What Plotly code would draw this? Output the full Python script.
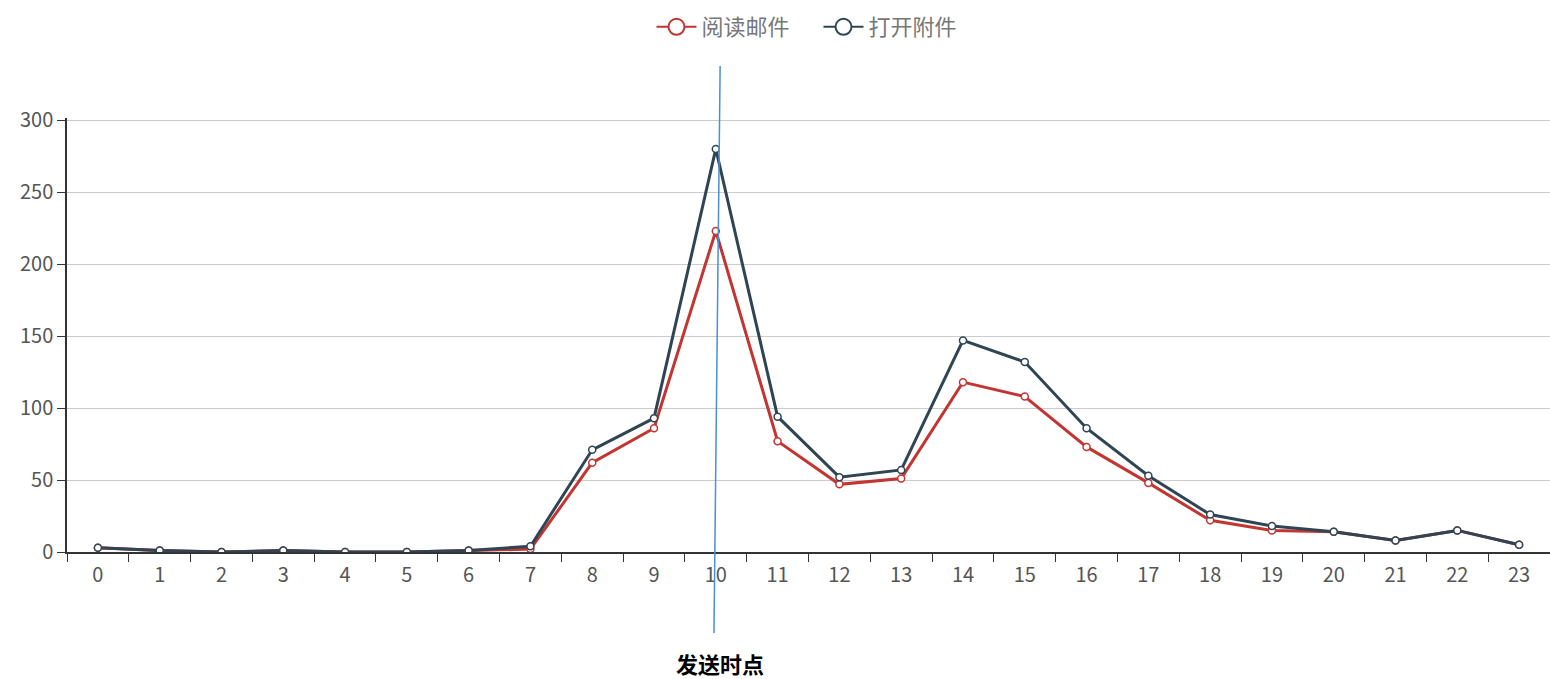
import plotly.graph_objects as go

# Hourly counts (0-23 h)
hours = [str(h) for h in range(24)]
read_mail = [3, 1, 0, 1, 0, 0, 1, 2, 62, 86, 223, 77, 47, 51, 118, 108, 73, 48, 22, 15, 14, 8, 15, 5]
open_attachment = [3, 1, 0, 1, 0, 0, 1, 4, 71, 93, 280, 94, 52, 57, 147, 132, 86, 53, 26, 18, 14, 8, 15, 5]
series_names = ["阅读邮件", "打开附件"]
send_hour = 10
send_label = "发送时点"

RED = "#c23531"
DARK = "#2f4554"
FONT = "Noto Sans CJK SC, Open Sans, sans-serif"

fig = go.Figure()

for name, values, color in [(series_names[0], read_mail, RED), (series_names[1], open_attachment, DARK)]:
    fig.add_trace(go.Scatter(
        x=hours, y=values, name=name, mode="lines+markers",
        line=dict(color=color, width=3),
        marker=dict(symbol="circle", size=7, color="white", line=dict(color=color, width=1.5)),
        showlegend=False,
    ))

# legend entries with larger hollow circle icons
for name, color in [(series_names[0], RED), (series_names[1], DARK)]:
    fig.add_trace(go.Scatter(
        x=[None], y=[None], name=name, mode="lines+markers",
        line=dict(color=color, width=2),
        marker=dict(symbol="circle", size=16, color="white", line=dict(color=color, width=2)),
        showlegend=True, hoverinfo="skip",
    ))

# marker for the send time
fig.add_shape(
    type="line", xref="x", yref="paper",
    x0=send_hour - 0.03, y0=-0.1866, x1=send_hour + 0.07, y1=1.1198,
    line=dict(color="#4a8fd8", width=1.5), layer="above",
)
fig.add_annotation(
    x=send_hour + 0.07, xref="x", y=-0.2558, yref="paper",
    text=f"<b>{send_label}</b>", showarrow=False, yanchor="middle",
    font=dict(family=FONT, size=22, color="#000000"),
)

fig.update_layout(
    width=1550, height=679,
    margin=dict(l=67, r=0, t=118, b=127),
    paper_bgcolor="white", plot_bgcolor="white",
    font=dict(family=FONT, color="#666666"),
    legend=dict(
        orientation="h", x=0.5 + 10 / 1483, xanchor="center", y=1 - 27 / 679, yref="container",
        yanchor="middle", font=dict(family=FONT, size=22, color="#777777"),
        itemclick=False, itemwidth=40, entrywidth=112, entrywidthmode="pixels",
    ),
    xaxis=dict(
        type="category", categoryorder="array", categoryarray=hours,
        range=[-0.5, 23.5], tickson="boundaries",
        showline=True, linecolor="#333333", linewidth=1.5,
        ticks="outside", ticklen=8, tickcolor="#333333", tickwidth=1,
        ticklabelstandoff=4,
        showgrid=False, tickfont=dict(family=FONT, size=20, color="#555555"),
    ),
    yaxis=dict(
        range=[0, 301.5], dtick=50, tick0=0,
        showline=True, linecolor="#333333", linewidth=1.5,
        ticks="outside", ticklen=8, tickcolor="#333333",
        showgrid=True, gridcolor="#cccccc", gridwidth=1, zeroline=False,
        tickfont=dict(family=FONT, size=20, color="#555555"),
    ),
)

fig.write_html("out.html")
